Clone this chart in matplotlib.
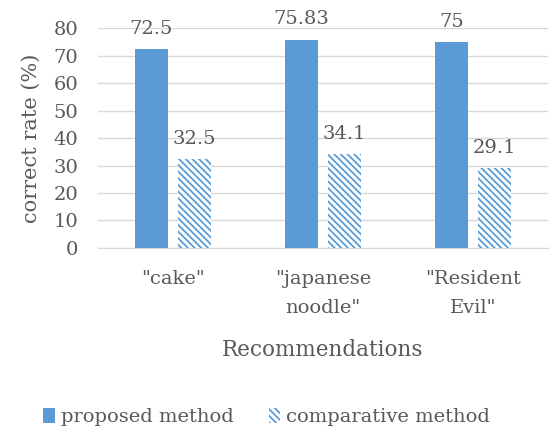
import numpy as np
import matplotlib.pyplot as plt
from matplotlib.patches import Patch

categories = ['"cake"', '"japanese\nnoodle"', '"Resident\nEvil"']
proposed = [72.5, 75.83, 75]
comparative = [32.5, 34.1, 29.1]
proposed_labels = ['72.5', '75.83', '75']
comparative_labels = ['32.5', '34.1', '29.1']

blue = '#5B9BD5'
txt = '#595959'
plt.rcParams['font.family'] = ['DejaVu Serif']
plt.rcParams['hatch.linewidth'] = 1.3

fig = plt.figure(figsize=(5.5, 4.32), dpi=100)
ax = fig.add_axes([0.178, 0.426, 0.818, 0.509])

x = np.arange(len(categories))
w = 0.22
gap = 0.065
hatch = '\\\\\\\\\\'
b1 = ax.bar(x - w/2 - gap/2, proposed, w, color=blue, zorder=3)
b2 = ax.bar(x + w/2 + gap/2, comparative, w, color='white', edgecolor=blue,
            hatch=hatch, linewidth=0, zorder=3)

for rect, lab in zip(b1, proposed_labels):
    ax.annotate(lab, (rect.get_x() + rect.get_width()/2, rect.get_height()),
                xytext=(0, 8), textcoords='offset points', ha='center', va='bottom',
                fontsize=14, color=txt)
for rect, lab in zip(b2, comparative_labels):
    ax.annotate(lab, (rect.get_x() + rect.get_width()/2, rect.get_height()),
                xytext=(0, 8), textcoords='offset points', ha='center', va='bottom',
                fontsize=14, color=txt)

ax.set_xlim(-0.5, 2.5)
ax.set_ylim(0, 80)
ax.set_yticks(range(0, 81, 10))
ax.set_xticks(x)
ax.set_xticklabels(categories, linespacing=1.75)
ax.yaxis.grid(True, color='#D9D9D9', lw=1, zorder=0)
for s in ['top', 'right', 'left']:
    ax.spines[s].set_visible(False)
ax.spines['bottom'].set_color('#D9D9D9')
ax.tick_params(length=0, labelsize=14, colors=txt)
ax.tick_params(axis='x', pad=16)
ax.tick_params(axis='y', pad=14)
ax.set_ylabel('correct rate (%)', fontsize=15, color=txt, labelpad=9)
ax.set_xlabel('Recommendations', fontsize=15.5, color=txt, labelpad=16)

handles = [Patch(facecolor=blue, label='proposed method'),
           Patch(facecolor='white', edgecolor=blue, hatch=hatch, linewidth=0,
                 label='comparative method')]
fig.legend(handles=handles, loc='center', bbox_to_anchor=(0.485, 0.035), ncol=2,
           frameon=False, fontsize=14, labelcolor=txt, handlelength=0.6,
           handleheight=0.8, handletextpad=0.3, columnspacing=1.8)

fig.savefig('out.png')
